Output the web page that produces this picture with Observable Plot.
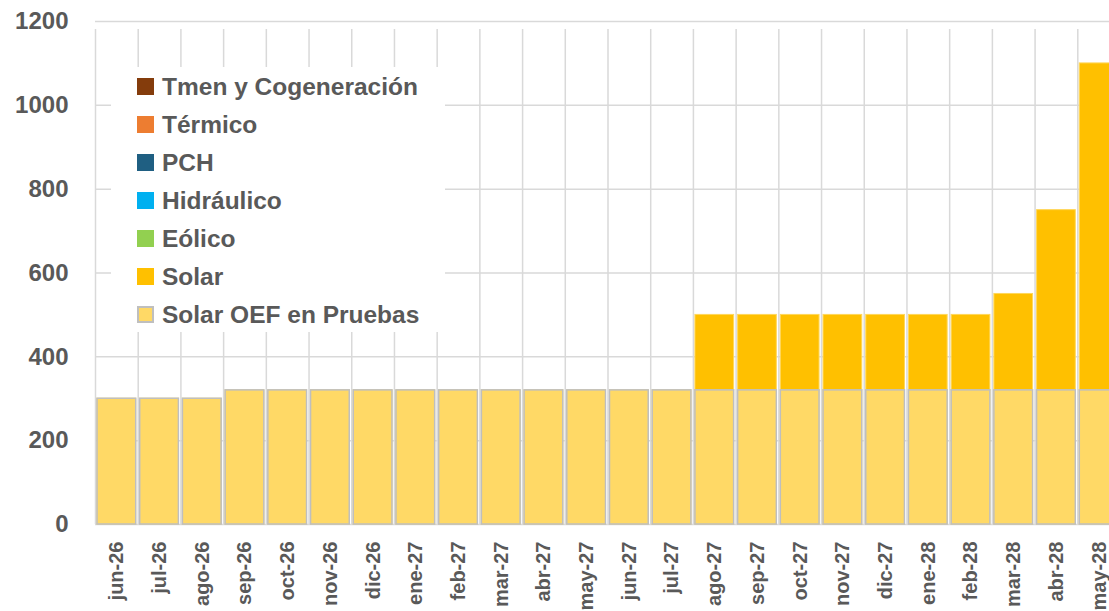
<!DOCTYPE html>
<html><head><meta charset="utf-8">
<script src="https://cdn.jsdelivr.net/npm/d3@7"></script>
<script src="https://cdn.jsdelivr.net/npm/@observablehq/plot@0.6"></script>
<style>
html,body{margin:0;padding:0;background:#fff;overflow:hidden;}
#wrap{position:relative;width:1109px;height:611px;overflow:hidden;}
#legend{position:absolute;left:111px;top:67px;width:334px;height:265px;background:#fff;font-family:"Liberation Sans",Arial,sans-serif;font-weight:bold;font-size:24.5px;color:#595959;}
.item{position:absolute;left:26px;height:38px;display:flex;align-items:center;white-space:nowrap;}
.sw{width:17px;height:17px;margin-right:8px;box-sizing:border-box;flex:none;}
</style></head><body><div id="wrap"></div>
<script>
const months = ["jun-26","jul-26","ago-26","sep-26","oct-26","nov-26","dic-26","ene-27","feb-27","mar-27","abr-27","may-27","jun-27","jul-27","ago-27","sep-27","oct-27","nov-27","dic-27","ene-28","feb-28","mar-28","abr-28","may-28"];
const solarOEF = [300,300,300,320,320,320,320,320,320,320,320,320,320,320,320,320,320,320,320,320,320,320,320,320];
const solar    = [0,0,0,0,0,0,0,0,0,0,0,0,0,0,180,180,180,180,180,180,180,230,430,780];
const series = ["Tmen y Cogeneración","Térmico","PCH","Hidráulico","Eólico","Solar","Solar OEF en Pruebas"];
const colors = ["#843C0C","#ED7D31","#1F5F82","#00B0F0","#92D050","#FFC000","#FFD966"];
const yTicks = [0,200,400,600,800,1000,1200];

const OEF = "Solar OEF en Pruebas";
const rows = [];
months.forEach((m,i)=>{
  rows.push({month:m, series:OEF, value:solarOEF[i]});
  rows.push({month:m, series:"Solar", value:solar[i]});
});
const oefRows = rows.filter(d=>d.series===OEF);

const W = 1109, H = 611;
const x0 = 95, x1 = 1120;
const step = (x1 - x0) / months.length;

const chart = Plot.plot({
  width: W, height: H,
  marginLeft: 95, marginRight: 0, marginTop: 21, marginBottom: 87,
  style: {fontFamily: '"Liberation Sans", Arial, sans-serif', fontWeight: "bold", color: "#595959", background: "#fff"},
  x: {domain: months, range: [x0, x1], padding: 0, round: false, label: null},
  y: {domain: [0, 1200], label: null},
  color: {domain: series, range: colors},
  marks: [
    Plot.ruleY(yTicks, {stroke: "#d9d9d9", strokeWidth: 1.5}),
    Plot.ruleX(months, {x: d => d, dx: -step/2, y1: 0, y2: 1200, insetBottom: -8, stroke: "#d9d9d9", strokeWidth: 1.5}),
    Plot.barY(rows, {x: "month", y: "value", fill: "series", order: [OEF, "Solar"], stroke: "#FFD75A", strokeWidth: 1, insetLeft: 2, insetRight: 2}),
    Plot.barY(oefRows, {x: "month", y: "value", fill: "series", stroke: "#BFBFBF", strokeWidth: 1.5, insetLeft: 2, insetRight: 2}),
    Plot.axisY({ticks: yTicks, tickSize: 0, tickPadding: 27, fontSize: 24, fill: "#595959", tickFormat: d => String(d), label: null}),
    Plot.axisX({tickSize: 0, tickPadding: 17, tickRotate: -90, fontSize: 20, fill: "#595959", label: null})
  ]
});
const wrap = document.getElementById("wrap");
wrap.appendChild(chart);

const legend = document.createElement("div");
legend.id = "legend";
series.forEach((s,i)=>{
  const it = document.createElement("div");
  it.className = "item";
  it.style.top = (i*38 + 0.5) + "px";
  const sw = document.createElement("div");
  sw.className = "sw";
  sw.style.background = colors[i];
  if (s === OEF) sw.style.border = "2px solid #BFBFBF";
  const t = document.createElement("span");
  t.textContent = s;
  it.appendChild(sw); it.appendChild(t);
  legend.appendChild(it);
});
wrap.appendChild(legend);
</script>
</body></html>
